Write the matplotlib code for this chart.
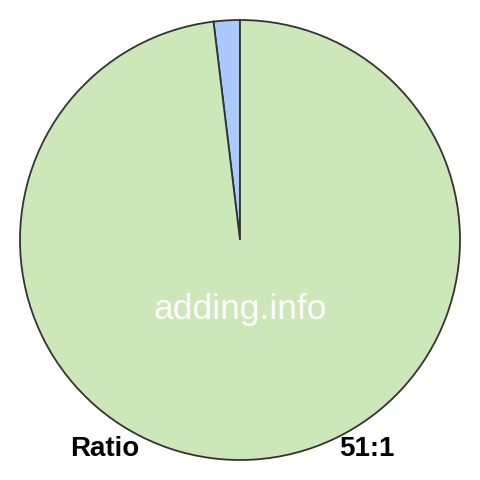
import matplotlib
matplotlib.use("Agg")
import matplotlib.pyplot as plt

# data
labels = ['51', '1']
values = [51, 1]
colors = ['#cde8b8', '#aac9fc']
ratio_label = 'Ratio'
ratio_text = '51:1'
watermark = 'adding.info'

plt.rcParams['font.family'] = ['Liberation Sans', 'DejaVu Sans']

fig = plt.figure(figsize=(4.8, 4.8), dpi=100)
ax = fig.add_axes([0, 0, 1, 1])

# blue slice sits just left of 12 o'clock, green fills the rest
ax.pie(values[::-1], colors=colors[::-1], startangle=90, counterclock=True,
       radius=1.0, wedgeprops=dict(edgecolor='#333333', linewidth=1.3))

ax.set_xlim(-240 / 220, 240 / 220)
ax.set_ylim(-240 / 220, 240 / 220)
ax.set_aspect('equal')
ax.axis('off')

ax.text(0, -(310 - 240) / 220, watermark, color='white', fontsize=25.5,
        ha='center', va='center')

fig.text(70 / 480, 1 - 449 / 480, ratio_label, fontsize=20, fontweight='bold',
         ha='left', va='center')
fig.text(394 / 480, 1 - 449 / 480, ratio_text, fontsize=20, fontweight='bold',
         ha='right', va='center')

fig.savefig('out.png', dpi=100, facecolor='white')
